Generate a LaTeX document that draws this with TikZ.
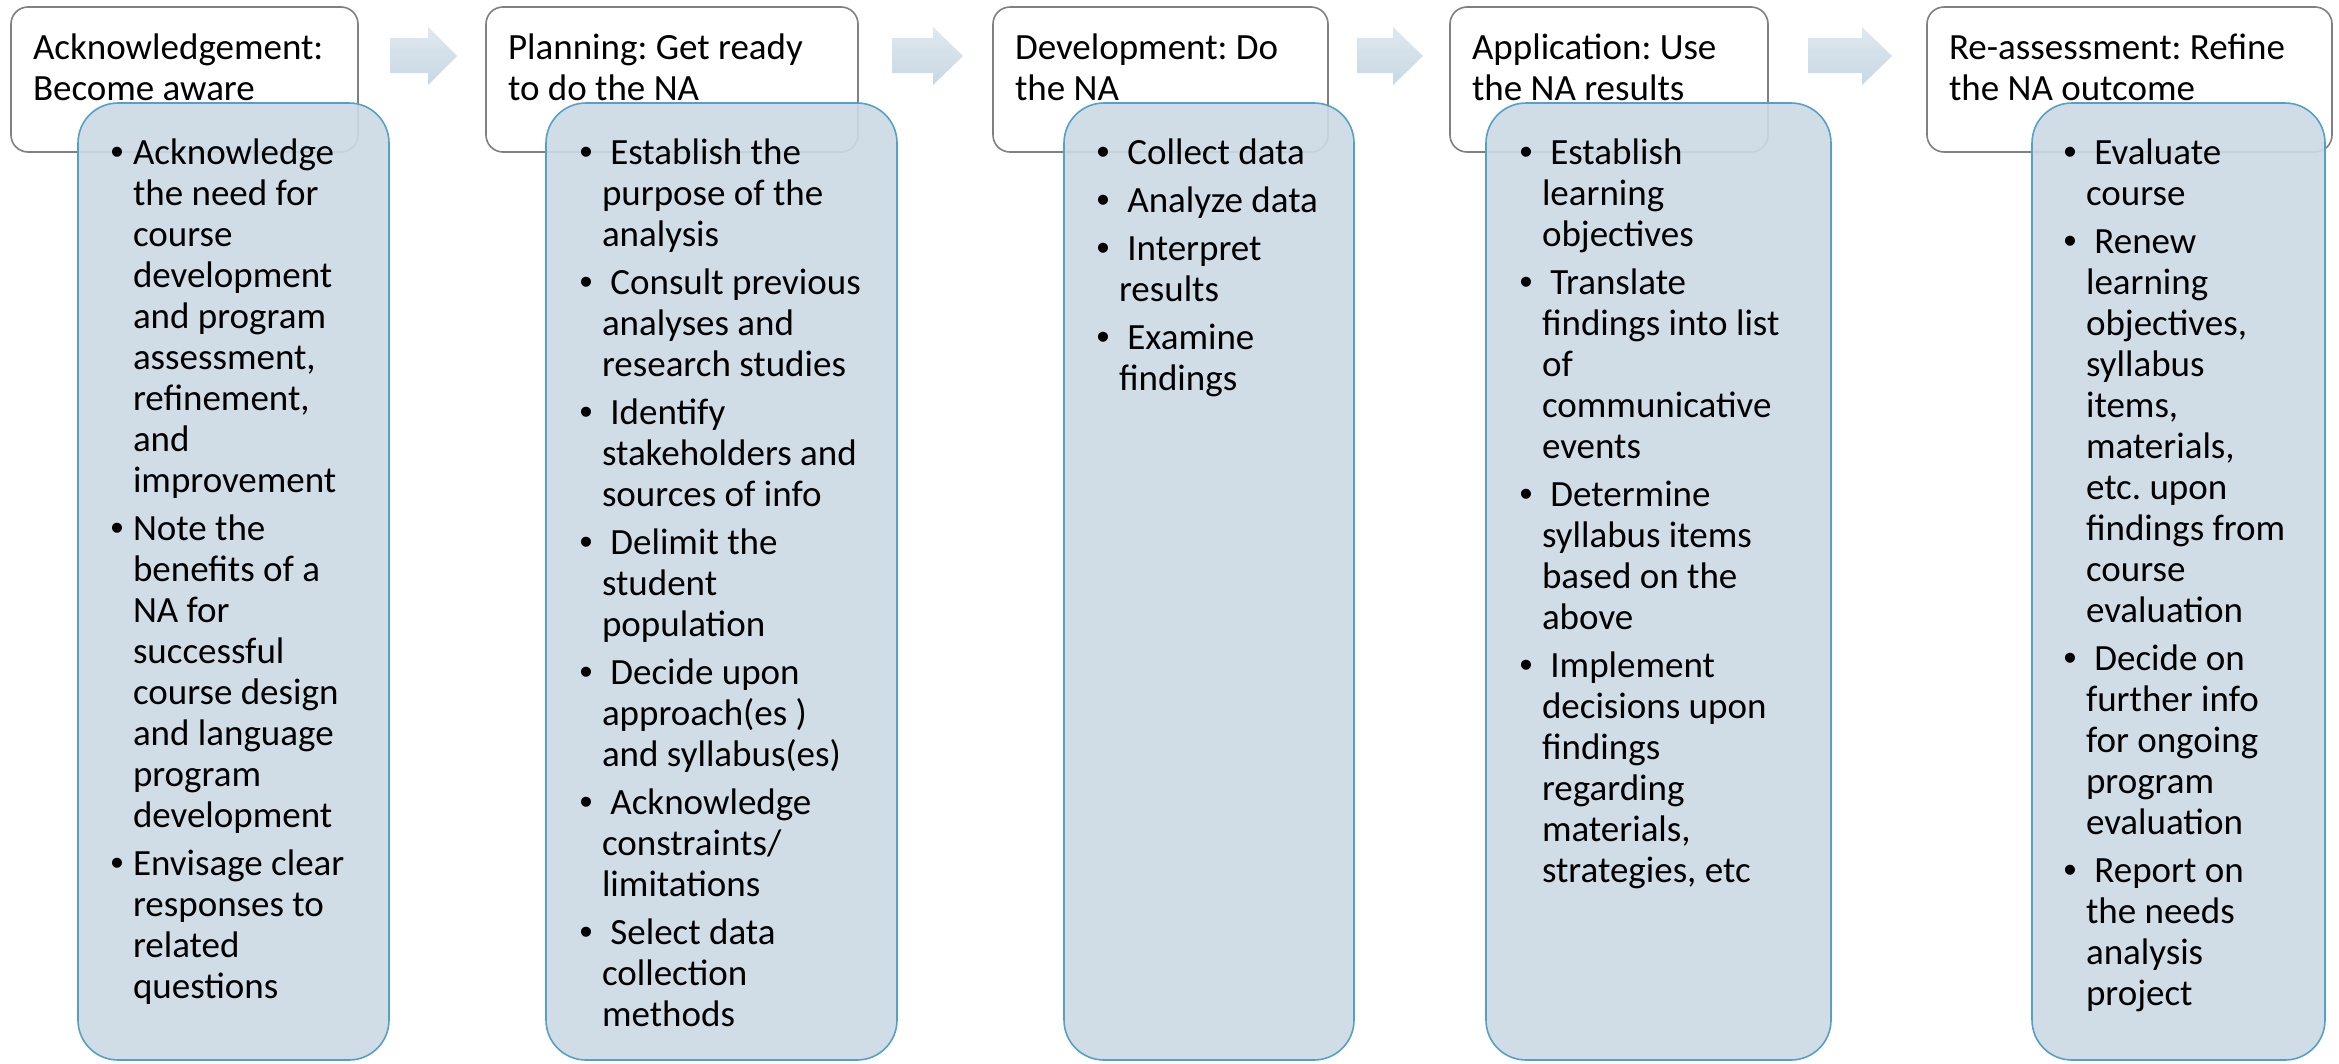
\documentclass[tikz,border=0pt]{standalone}
\usepackage{fontspec}
\setmainfont{Carlito}
\newfontfamily\bulletfont{Liberation Sans}
\frenchspacing
\definecolor{hdrline}{RGB}{128,128,128}
\definecolor{panelline}{RGB}{84,160,199}
\definecolor{panelfill}{RGB}{203,218,228}
\definecolor{arrtop}{RGB}{223,232,239}
\definecolor{arrbot}{RGB}{200,216,228}
\newcommand\itm{\leavevmode\llap{\makebox[32pt][c]{\bulletfont\textbullet}}}
\newcommand\lsp{\hspace*{0.226em}}
\newcommand\itemgap{\\[7pt]}
\tikzset{
  hdr/.style={draw=hdrline, line width=1.6pt, rounded corners=17pt, fill=white,
    anchor=north west, inner sep=0pt, outer sep=0pt},
  panel/.style={draw=panelline, line width=1.6pt, rounded corners=40pt, fill=panelfill,
    fill opacity=0.9, anchor=north west, inner sep=0pt, outer sep=0pt},
  txt/.style={anchor=base west, inner sep=0pt, outer sep=0pt,
    font=\fontsize{37}{41}\selectfont\frenchspacing},
  blockarrow/.style={top color=arrtop, bottom color=arrbot, draw=none}
}
\newcommand\txtbox[1]{\begin{minipage}[t]{420pt}\raggedright\frenchspacing #1\end{minipage}}
\begin{document}
\begin{tikzpicture}[x=1pt,y=-1pt]
\fill[white] (0,0) rectangle (2339,1063);
\useasboundingbox (0,0) rectangle (2339,1063);

% header boxes
\node[hdr, minimum width=347pt, minimum height=145pt] (h1) at (11,7) {};
\node[hdr, minimum width=372pt, minimum height=145pt] (h2) at (486,7) {};
\node[hdr, minimum width=335pt, minimum height=145pt] (h3) at (993,7) {};
\node[hdr, minimum width=318pt, minimum height=145pt] (h4) at (1450,7) {};
\node[hdr, minimum width=405pt, minimum height=145pt] (h5) at (1927,7) {};

\node[txt] (h1t) at (33,59) {\txtbox{Acknowledgement:\\Become aware}};
\node[txt] (h2t) at (508,59) {\txtbox{Planning: Get ready\\to do the NA}};
\node[txt] (h3t) at (1015,59) {\txtbox{Development: Do\\the NA}};
\node[txt] (h4t) at (1472,59) {\txtbox{Application: Use\\the NA results}};
\node[txt] (h5t) at (1949,59) {\txtbox{Re-assessment: Refine\\the NA outcome}};

% arrows
\path[blockarrow] (390,38) -- (428,38) -- (428,27) -- (457,56) -- (428,85) -- (428,73) -- (390,73) -- cycle;
\path[blockarrow] (892,38) -- (933,38) -- (933,27) -- (963,56) -- (933,85) -- (933,73) -- (892,73) -- cycle;
\path[blockarrow] (1357,38) -- (1393,38) -- (1393,27) -- (1423,56) -- (1393,85) -- (1393,73) -- (1357,73) -- cycle;
\path[blockarrow] (1808,38) -- (1862,38) -- (1862,27) -- (1892,56) -- (1862,85) -- (1862,73) -- (1808,73) -- cycle;

% panels
\node[panel, minimum width=311pt, minimum height=957pt] (p1) at (78,103) {};
\node[panel, minimum width=351pt, minimum height=957pt] (p2) at (546,103) {};
\node[panel, minimum width=290pt, minimum height=957pt] (p3) at (1064,103) {};
\node[panel, minimum width=345pt, minimum height=957pt] (p4) at (1486,103) {};
\node[panel, minimum width=293pt, minimum height=957pt] (p5) at (2032,103) {};

% panel texts
\node[txt] (p1t) at (133,164) {\txtbox{%
\itm Acknowledge\\the need for\\course\\development\\and program\\assessment,\\refinement,\\and\\improvement\itemgap
\itm Note the\\benefits of a\\NA for\\successful\\course design\\and language\\program\\development\itemgap
\itm Envisage clear\\responses to\\related\\questions}};

\node[txt] (p2t) at (602,164) {\txtbox{%
\itm\lsp Establish the\\purpose of the\\analysis\itemgap
\itm\lsp Consult previous\\analyses and\\research studies\itemgap
\itm\lsp Identify\\stakeholders and\\sources of info\itemgap
\itm\lsp Delimit the\\student\\population\itemgap
\itm\lsp Decide upon\\approach(es )\\and syllabus(es)\itemgap
\itm\lsp Acknowledge\\constraints/\\limitations\itemgap
\itm\lsp Select data\\collection\\methods}};

\node[txt] (p3t) at (1119,164) {\txtbox{%
\itm\lsp Collect data\itemgap
\itm\lsp Analyze data\itemgap
\itm\lsp Interpret\\results\itemgap
\itm\lsp Examine\\findings}};

\node[txt] (p4t) at (1542,164) {\txtbox{%
\itm\lsp Establish\\learning\\objectives\itemgap
\itm\lsp Translate\\findings into list\\of\\communicative\\events\itemgap
\itm\lsp Determine\\syllabus items\\based on the\\above\itemgap
\itm\lsp Implement\\decisions upon\\findings\\regarding\\materials,\\strategies, etc}};

\node[txt] (p5t) at (2086,164) {\txtbox{%
\itm\lsp Evaluate\\course\itemgap
\itm\lsp Renew\\learning\\objectives,\\syllabus\\items,\\materials,\\etc. upon\\findings from\\course\\evaluation\itemgap
\itm\lsp Decide on\\further info\\for ongoing\\program\\evaluation\itemgap
\itm\lsp Report on\\the needs\\analysis\\project}};
\end{tikzpicture}
\end{document}
